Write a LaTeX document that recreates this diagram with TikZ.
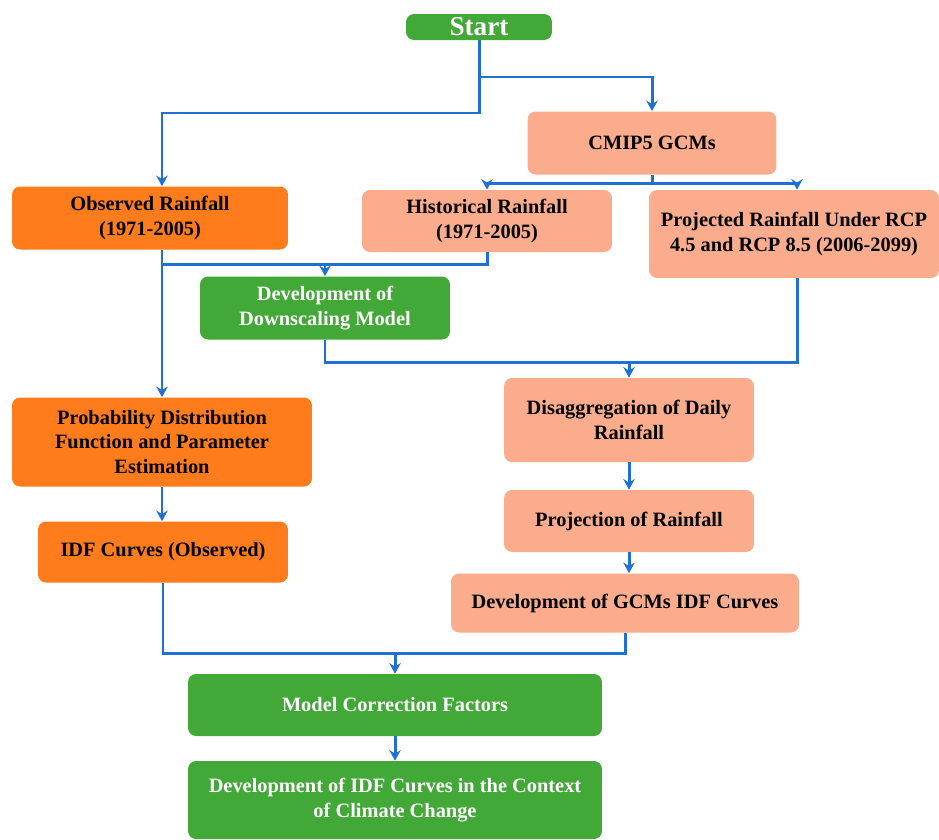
\documentclass[tikz,border=0pt]{standalone}
\usepackage{fontspec}
\setmainfont{Liberation Serif}
\usetikzlibrary{arrows.meta}
\definecolor{flowblue}{RGB}{30,112,212}
\definecolor{boxgreen}{RGB}{66,168,56}
\definecolor{deeporange}{RGB}{255,124,28}
\definecolor{paleorange}{RGB}{250,172,140}
\tikzset{
  box/.style={rounded corners=0.16cm,align=center,inner sep=2pt,
    font=\fontsize{11.6}{14.2}\selectfont\bfseries},
  greenbox/.style={box,fill=boxgreen,text=white},
  orangebox/.style={box,fill=deeporange,text=black},
  salmonbox/.style={box,fill=paleorange,text=black},
  flow/.style={draw=flowblue,line width=1.7pt},
  flowarrow/.style={flow,-{Stealth[length=6pt,width=6.5pt]}}
}
\begin{document}
\begin{tikzpicture}[x=0.02cm,y=-0.02cm]
    \useasboundingbox (0,0) rectangle (939,839);
    % Definitions
    \coordinate (ST) at (479,27);
    \coordinate (CM) at (652,143);
    \coordinate (OR) at (150,218);
    \coordinate (HR) at (487,221);
    \coordinate (PR) at (794,234);
    \coordinate (DM) at (325,308);
    \coordinate (DD) at (629,420);
    \coordinate (PD) at (162,442);
    \coordinate (IO) at (163,552);
    \coordinate (PJ) at (629,521);
    \coordinate (GI) at (625,603);
    \coordinate (MC) at (395,705);
    \coordinate (DI) at (395,800);
    % Nodes
    \node(Star) at (ST) [greenbox,minimum width=2.92cm,minimum height=0.52cm,font=\fontsize{15.5}{17}\selectfont\bfseries] {Start};
    \node(Cmip) at (CM) [salmonbox,minimum width=4.98cm,minimum height=1.26cm] {CMIP5 GCMs};
    \node(Obse) at (OR) [orangebox,minimum width=5.52cm,minimum height=1.26cm] {Observed Rainfall\\(1971-2005)};
    \node(Hist) at (HR) [salmonbox,minimum width=5.0cm,minimum height=1.24cm]  {Historical Rainfall\\(1971-2005)};
    \node(Proj) at (PR) [salmonbox,minimum width=5.8cm,minimum height=1.76cm]  {Projected Rainfall Under RCP\\4.5 and RCP 8.5 (2006-2099)};
    \node(Down) at (DM) [greenbox,minimum width=5.0cm,minimum height=1.26cm]   {Development of\\Downscaling Model};
    \node(Disa) at (DD) [salmonbox,minimum width=5.0cm,minimum height=1.68cm]  {Disaggregation of Daily\\Rainfall};
    \node(Prob) at (PD) [orangebox,minimum width=6.0cm,minimum height=1.78cm]  {Probability Distribution\\Function and Parameter\\Estimation};
    \node(IdfO) at (IO) [orangebox,minimum width=5.0cm,minimum height=1.22cm]  {IDF Curves (Observed)};
    \node(Pjrf) at (PJ) [salmonbox,minimum width=5.0cm,minimum height=1.24cm]  {Projection of Rainfall};
    \node(GIdf) at (GI) [salmonbox,minimum width=6.96cm,minimum height=1.18cm] {Development of GCMs IDF Curves};
    \node(Corr) at (MC) [greenbox,minimum width=8.28cm,minimum height=1.24cm]  {Model Correction Factors};
    \node(Deve) at (DI) [greenbox,minimum width=8.28cm,minimum height=1.56cm]  {Development of IDF Curves in the Context\\of Climate Change};
    % Junctions
    \coordinate (J0) at (479,77);
    \coordinate (J1) at (479,113);
    \coordinate (J2) at (652,183);
    \coordinate (J3) at (325,264);
    \coordinate (J4) at (629,362);
    \coordinate (J5) at (395,653);
    % Arrows
    \draw[flowarrow] (Star.south) -- (J1) -| (Obse.north -| Prob.north);
    \draw[flowarrow] (J0) -| (Cmip.north);
    \draw[flow]      (Cmip.south) -- (J2);
    \draw[flowarrow] (J2) -| (Hist.north);
    \draw[flowarrow] (J2) -| ([xshift=0.06cm]Proj.north);
    \draw[flowarrow] (Obse.south -| Prob.north) -- (Prob.north);
    \draw[flow]      (Hist.south) |- (J3) -- (J3 -| Prob.north);
    \draw[flowarrow] (J3) -- (Down.north);
    \draw[flow]      (Down.south) |- (J4);
    \draw[flow]      ([xshift=0.06cm]Proj.south) |- (J4);
    \draw[flowarrow] (J4) -- (Disa.north);
    \draw[flowarrow] (Disa.south) -- (Pjrf.north);
    \draw[flowarrow] (Pjrf.south) -- (Pjrf.south |- GIdf.north);
    \draw[flowarrow] (Prob.south) -- (Prob.south |- IdfO.north);
    \draw[flow]      (IdfO.south) |- (J5);
    \draw[flow]      (GIdf.south) |- (J5);
    \draw[flowarrow] (J5) -- (Corr.north);
    \draw[flowarrow] (Corr.south) -- (Deve.north);
\end{tikzpicture}
\end{document}
